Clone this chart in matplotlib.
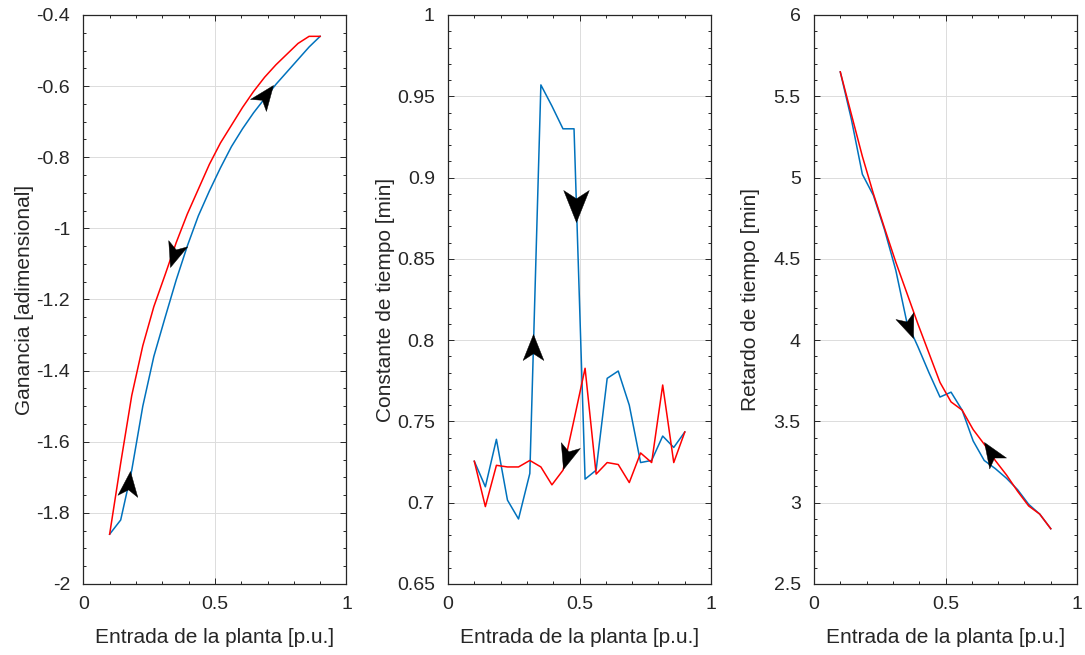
import matplotlib
matplotlib.use("Agg")
import matplotlib.pyplot as plt
from matplotlib.markers import MarkerStyle
from matplotlib.path import Path
from matplotlib.transforms import Affine2D
from matplotlib.ticker import MultipleLocator, FixedLocator, FuncFormatter

plt.rcParams['font.family'] = ['Liberation Sans', 'DejaVu Sans']
plt.rcParams['axes.unicode_minus'] = False

# Plant input (p.u.)
entrada = [0.100, 0.142, 0.184, 0.226, 0.268, 0.311, 0.353, 0.395, 0.437, 0.479,
           0.521, 0.563, 0.605, 0.647, 0.689, 0.732, 0.774, 0.816, 0.858, 0.900]

# Gain: rising sweep (blue) and falling sweep (red)
ganancia_subida = [-1.86, -1.82, -1.68, -1.50, -1.36, -1.25, -1.145, -1.05, -0.965, -0.895,
                   -0.83, -0.77, -0.72, -0.675, -0.635, -0.595, -0.56, -0.525, -0.49, -0.46]
ganancia_bajada = [-1.86, -1.66, -1.47, -1.33, -1.22, -1.13, -1.04, -0.96, -0.89, -0.82,
                   -0.76, -0.71, -0.66, -0.615, -0.575, -0.54, -0.51, -0.48, -0.46, -0.46]

# Time constant [min]
tau_subida = [0.7255, 0.7098, 0.739, 0.7016, 0.690, 0.718, 0.957, 0.944, 0.930, 0.930,
              0.7145, 0.720, 0.7765, 0.781, 0.760, 0.7247, 0.726, 0.741, 0.734, 0.7435]
tau_bajada = [0.7255, 0.6976, 0.723, 0.722, 0.722, 0.726, 0.722, 0.711, 0.720, 0.751,
              0.7827, 0.7176, 0.7247, 0.7235, 0.7124, 0.7306, 0.7247, 0.7724, 0.7247, 0.7435]

# Dead time [min]
retardo_subida = [5.65, 5.36, 5.02, 4.89, 4.68, 4.43, 4.11, 3.96, 3.80, 3.65,
                  3.68, 3.57, 3.38, 3.26, 3.21, 3.15, 3.08, 2.99, 2.93, 2.84]
retardo_bajada = [5.65, 5.39, 5.13, 4.90, 4.69, 4.48, 4.29, 4.10, 3.92, 3.74,
                  3.62, 3.57, 3.45, 3.36, 3.26, 3.17, 3.07, 2.98, 2.93, 2.84]

# Direction arrows: (x tip, y tip, screen angle in degrees, head length in px)
flechas_ganancia = [(0.72, -0.596, 53, 25), (0.331, -1.108, -108, 25), (0.178, -1.681, 84, 25)]
flechas_tau = [(0.323, 0.804, 90, 26), (0.4875, 0.8728, -90, 32), (0.437, 0.721, -107, 25)]
flechas_retardo = [(0.376, 4.013, -69, 24), (0.647, 3.371, 123, 25)]

x_ticks = [0, 0.5, 1]
y_ticks_ganancia = [-2, -1.8, -1.6, -1.4, -1.2, -1, -0.8, -0.6, -0.4]
y_ticks_tau = [0.65, 0.7, 0.75, 0.8, 0.85, 0.9, 0.95, 1]
y_ticks_retardo = [2.5, 3, 3.5, 4, 4.5, 5, 5.5, 6]

xlabel = 'Entrada de la planta [p.u.]'
ylabels = ['Ganancia [adimensional]', 'Constante de tiempo [min]', 'Retardo de tiempo [min]']

AZUL = '#0072BD'
ROJO = '#FF0000'
EJE = '#262626'

# Swept-back arrowhead with its tip at the origin
cabeza = Path([(0, 0), (-1, 0.40), (-0.74, 0), (-1, -0.40), (0, 0)],
              [Path.MOVETO, Path.LINETO, Path.LINETO, Path.LINETO, Path.CLOSEPOLY])


def dibujar_flechas(ax, flechas):
    for x, y, ang, largo in flechas:
        m = MarkerStyle(cabeza, transform=Affine2D().rotate_deg(ang))
        ax.plot([x], [y], marker=m, markersize=largo * 0.72 * 2, color='black',
                markeredgewidth=0.3, linestyle='none', zorder=5)


fig = plt.figure(figsize=(10.85, 6.55), dpi=100)
lefts = [0.0768, 0.4129, 0.7502]
width = 0.2425
bottom = 0.1084
height = 0.8687
ylabel_x = [-0.187, -0.200, -0.205]

paneles = [
    (ganancia_subida, ganancia_bajada, y_ticks_ganancia, 0.05, flechas_ganancia),
    (tau_subida, tau_bajada, y_ticks_tau, 0.01, flechas_tau),
    (retardo_subida, retardo_bajada, y_ticks_retardo, 0.1, flechas_retardo),
]

fmt = FuncFormatter(lambda v, p: '%g' % round(v, 4))

for i, (sub, baj, yt, ymin, flechas) in enumerate(paneles):
    ax = fig.add_axes([lefts[i], bottom, width, height])
    ax.plot(entrada, sub, color=AZUL, lw=1.1, zorder=3)
    ax.plot(entrada, baj, color=ROJO, lw=1.1, zorder=4)
    dibujar_flechas(ax, flechas)
    ax.set_xlim(0, 1)
    ax.set_ylim(yt[0], yt[-1])
    ax.xaxis.set_major_locator(FixedLocator(x_ticks))
    ax.yaxis.set_major_locator(FixedLocator(yt))
    ax.xaxis.set_minor_locator(MultipleLocator(0.1))
    ax.yaxis.set_minor_locator(MultipleLocator(ymin))
    ax.xaxis.set_major_formatter(fmt)
    ax.yaxis.set_major_formatter(fmt)
    ax.grid(True, which='major', color='#dcdcdc', lw=0.7)
    ax.set_axisbelow(True)
    ax.tick_params(which='both', direction='in', top=True, right=True,
                   colors=EJE, labelsize=14, width=0.7)
    ax.tick_params(which='major', length=4)
    ax.tick_params(axis='x', which='major', pad=9)
    ax.tick_params(axis='y', which='major', pad=9.5)
    ax.tick_params(which='minor', length=2.2)
    for s in ax.spines.values():
        s.set_color(EJE)
        s.set_linewidth(0.9)
    ax.set_xlabel(xlabel, fontsize=15, color=EJE, labelpad=10.5)
    ax.set_ylabel(ylabels[i], fontsize=15, color=EJE)
    ax.yaxis.set_label_coords(ylabel_x[i], 0.5)

fig.savefig('out.png', dpi=100)
